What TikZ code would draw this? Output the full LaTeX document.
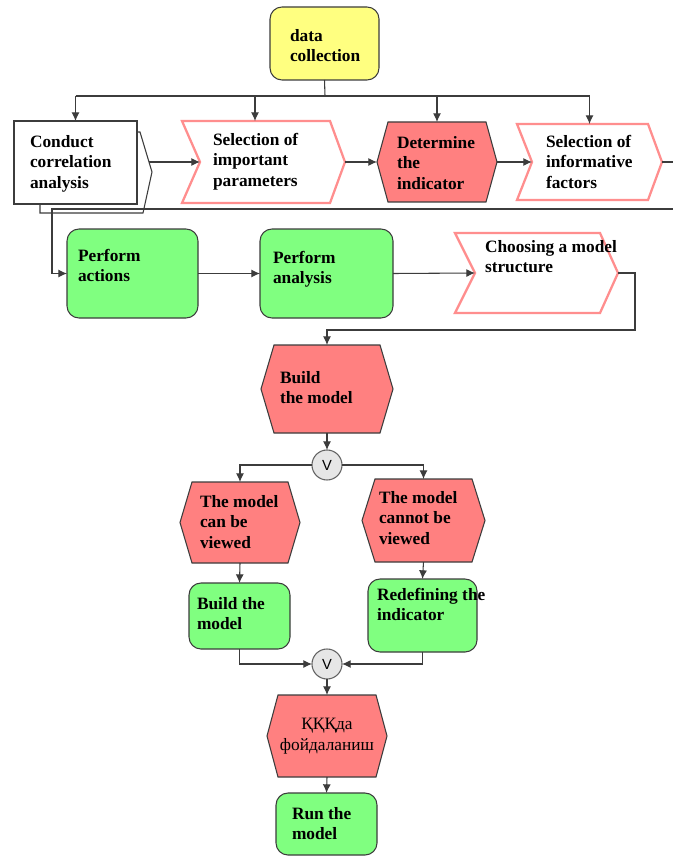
\documentclass[tikz,border=0pt]{standalone}
\usepackage{fontspec}
\setmainfont{Liberation Serif}
\newfontfamily\vfont{Liberation Sans}
\usetikzlibrary{arrows.meta,calc,fit}
\definecolor{yel}{HTML}{FFFF80}
\definecolor{grn}{HTML}{80FF80}
\definecolor{redf}{HTML}{FF8080}
\definecolor{pnk}{HTML}{FF8E8E}
\definecolor{edge}{HTML}{3C3C3C}
\definecolor{vgray}{HTML}{E6E6E6}
\newcommand\hexdraw[2]{%
  \draw[hexs] ($(#1.north west)+(#2,0)$) -- ($(#1.north east)+(-#2,0)$) -- (#1.east)
    -- ($(#1.south east)+(-#2,0)$) -- ($(#1.south west)+(#2,0)$) -- (#1.west) -- cycle;}
\newcommand\chevdraw[3]{%
  \draw[chevs] (#1.north west) -- ($(#1.north east)+(-#3,0)$) -- (#1.east)
    -- ($(#1.south east)+(-#3,0)$) -- (#1.south west) -- ($(#1.west)+(#2,0)$) -- cycle;}
\begin{document}
\begin{tikzpicture}[x=0.75pt,y=-0.75pt,
  every node/.style={inner sep=0pt,outer sep=0pt},
  region/.style={draw=none,inner sep=0pt},
  gbox/.style={draw=edge,line width=0.8pt,fill=grn,rounded corners=9pt,inner sep=0pt},
  ybox/.style={draw=edge,line width=0.8pt,fill=yel,rounded corners=9pt,inner sep=0pt},
  wbox/.style={draw=edge,line width=0.8pt,fill=white,inner sep=0pt},
  hexs/.style={draw=edge,line width=0.8pt,fill=redf},
  chevs/.style={draw=pnk,line width=1.7pt,fill=white,line join=miter},
  txt/.style={anchor=north west,align=left,text=black,
    font=\fontsize{13pt}{15.4pt}\selectfont\bfseries},
  ctxt/.style={align=center,text=black,font=\fontsize{13pt}{15.4pt}\selectfont},
  vcirc/.style={circle,draw=edge!80,fill=vgray,line width=0.8pt,minimum size=22.5pt,
    font=\vfont\fontsize{11pt}{12pt}\selectfont},
  ln/.style={draw=edge,line width=0.8pt},
  arr/.style={ln,-{Latex[length=6.5pt,width=6pt]}}]
\useasboundingbox (0,0) rectangle (672,859);
\fill[white] (0,0) rectangle (672,859);

% ---------- top ----------
\node[ybox,fit={(270,7)(379,80)}] (dc) {};

% ---------- row 1 ----------
\draw[wbox] (40,132) -- (140,132) -- (152,172) -- (143,213) -- (40,213) -- cycle;
\node[wbox,fit={(14,121)(137,204)}] (cond) {};
\coordinate (condout) at (149,162);
\node[region,fit={(182,121)(345,203)}] (imp) {};
\chevdraw{imp}{18}{15}
\node[region,fit={(377,122)(497,202)}] (det) {};
\hexdraw{det}{11}
\node[region,fit={(517,124)(662,200)}] (inf) {};
\chevdraw{inf}{15}{14}

% ---------- row 2 ----------
\node[gbox,fit={(67,229)(198,318)}] (pact) {};
\node[gbox,fit={(260,229)(393,318)}] (pan) {};
\node[region,fit={(455,233)(618,313)}] (cho) {};
\chevdraw{cho}{20}{18}

% ---------- middle ----------
\node[region,fit={(261,345)(393,433)}] (bm) {};
\hexdraw{bm}{13}
\node[vcirc] (v1) at (327,465) {V};
\node[region,fit={(180,482)(300,563)}] (mcv) {};
\hexdraw{mcv}{12}
\node[region,fit={(362,479)(485,562)}] (mnv) {};
\hexdraw{mnv}{13}
\node[gbox,fit={(189,583)(290,649)}] (bm2) {};
\node[gbox,fit={(368,579)(477,652)}] (rd) {};
\node[vcirc] (v2) at (327,664) {V};
\node[region,fit={(267,695)(387,777)}] (kk) {};
\hexdraw{kk}{11}
\node[gbox,fit={(276,793)(377,855)}] (run) {};

% ---------- connectors ----------
\coordinate (j) at (325,96);
\coordinate (impin) at ($(imp.north west)+(73,0)$);
\draw[ln] (dc.south) -- (j);
\draw[ln] (cond.north |- j) -- (inf.north |- j);
\draw[arr] (cond.north |- j) -- (cond.north);
\draw[arr] (impin |- j) -- (impin);
\draw[arr] (det.north |- j) -- (det.north);
\draw[arr] (inf.north |- j) -- (inf.north);

\draw[arr] (condout) -- ($(imp.west)+(18,0)$);
\draw[arr] (imp.east) -- (det.west);
\draw[arr] (det.east) -- ($(inf.west)+(15,0)$);

\coordinate (fb) at (52,209);
\draw[arr] (inf.east) -- ++(40,0) |- (fb) |- (pact.west);

\draw[arr] (pact.east) -- (pact.east -| pan.west);
\draw[arr] (pan.east) -- ($(cho.west)+(20,0)$);
\draw[arr] (cho.east) -- ++(17,0) |- ($(bm.north)+(0,-15)$) -- (bm.north);

\draw[arr] (bm.south) -- (v1.north);
\draw[arr] (v1.west) -| (mcv.north);
\draw[arr] (v1.east) -| (mnv.north);
\draw[arr] (mcv.south) -- (bm2.north);
\draw[arr] (mnv.south) -- (rd.north);
\draw[arr] (bm2.south) |- (v2.west);
\draw[arr] (rd.south) |- (v2.east);
\draw[arr] (v2.south) -- (kk.north);
\draw[arr] (kk.south) -- (run.north);

% ---------- texts ----------
\node[txt] (tdc) at (290,29) {data\\collection};
\node[txt] (tcond) at (30,135) {Conduct\\correlation\\analysis};
\node[txt] (timp) at (213,133) {Selection of\\important\\parameters};
\node[txt] (tdet) at (397,136) {Determine\\the\\indicator};
\node[txt] (tinf) at (546,135) {Selection of\\informative\\factors};
\node[txt] (tpact) at (78,249) {Perform\\actions};
\node[txt] (tpan) at (273,251) {Perform\\analysis};
\node[txt] (tcho) at (485,240) {Choosing a model\\structure};
\node[txt] (tbm) at (280,371) {Build\\the model};
\node[txt] (tmcv) at (200,495) {The model\\can be\\viewed};
\node[txt] (tmnv) at (379,491) {The model\\cannot be\\viewed};
\node[txt] (tbm2) at (197,597) {Build the\\model};
\node[txt] (trd) at (377,588) {Redefining the\\indicator};
\node[ctxt] (tkk) at (327,736) {ҚҚҚда\\фойдаланиш};
\node[txt] (trun) at (292,807) {Run the\\model};
\end{tikzpicture}
\end{document}
